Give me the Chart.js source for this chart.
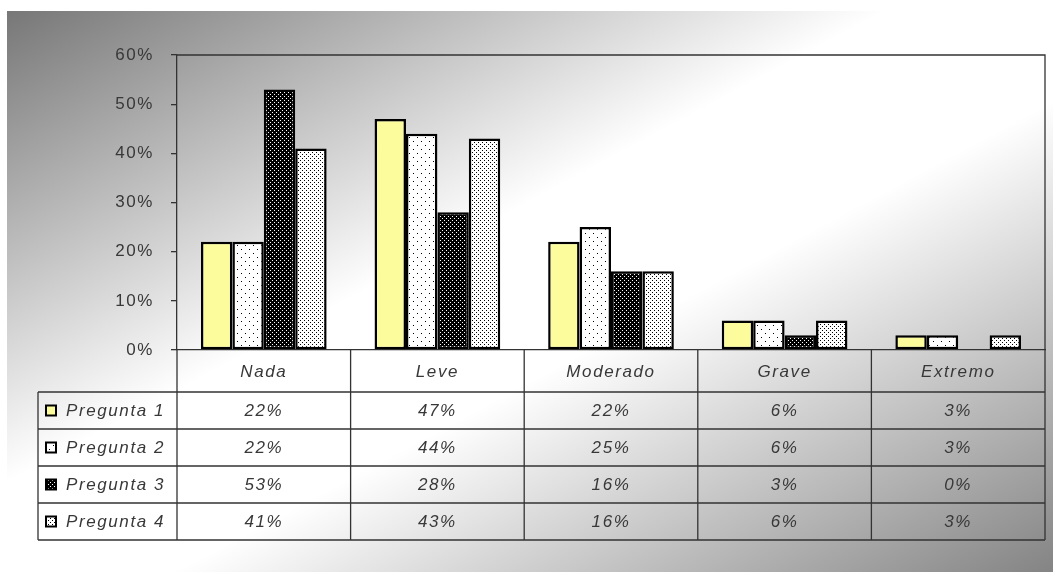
<!DOCTYPE html>
<html>
<head>
<meta charset="utf-8">
<title>Pregunta 1-4</title>
<script src="https://cdn.jsdelivr.net/npm/chart.js@4.4.1/dist/chart.umd.min.js"></script>
<style>
  html, body { margin: 0; padding: 0; background: #fff; overflow: hidden; }
  canvas { display: block; }
</style>
</head>
<body>
<canvas id="chart" width="1053" height="572"></canvas>
<script>
// Categories and answer shares (%) per question
const categories = ['Nada', 'Leve', 'Moderado', 'Grave', 'Extremo'];
const seriesNames = ['Pregunta 1', 'Pregunta 2', 'Pregunta 3', 'Pregunta 4'];
const pregunta1 = [22, 47, 22, 6, 3];
const pregunta2 = [22, 44, 25, 6, 3];
const pregunta3 = [53, 28, 16, 3, 0];
const pregunta4 = [41, 43, 16, 6, 3];
const yTicks = [0, 10, 20, 30, 40, 50, 60];

const FONT = "'Liberation Sans', Arial, sans-serif";
const SPACING = '1.6px';
const TEXT = '#383838';

const canvas = document.getElementById('chart');
const ctx = canvas.getContext('2d');

// Small tiled fills in the style of classic spreadsheet hatch patterns
function dotPattern(bg, fg, size, dots) {
  const c = document.createElement('canvas');
  c.width = size; c.height = size;
  const g = c.getContext('2d');
  g.fillStyle = bg; g.fillRect(0, 0, size, size);
  g.fillStyle = fg;
  dots.forEach(([a, b]) => g.fillRect(a, b, 1, 1));
  return ctx.createPattern(c, 'repeat');
}
const fills = [
  '#fdfc9c',
  dotPattern('#ffffff', '#000000', 8, [[1, 1], [5, 5]]),
  dotPattern('#000000', '#ffffff', 4, [[0, 0], [2, 2]]),
  dotPattern('#ffffff', '#000000', 4, [[0, 0], [2, 2]])
];
const seriesValues = [pregunta1, pregunta2, pregunta3, pregunta4];

// Diagonal grey-white-grey backdrop
const backdrop = {
  id: 'backdrop',
  beforeDraw(chart) {
    const c = chart.ctx;
    const x0 = 7, y0 = 11, w = chart.width - x0, h = chart.height - y0;
    c.save();
    c.fillStyle = '#ffffff';
    c.fillRect(0, 0, chart.width, chart.height);
    c.translate(x0, y0);
    c.scale(w, h);
    const g = c.createLinearGradient(0, 0, 1, 1);
    g.addColorStop(0, '#777777');
    g.addColorStop(0.42, '#ffffff');
    g.addColorStop(0.58, '#ffffff');
    g.addColorStop(1, '#848484');
    c.fillStyle = g;
    c.fillRect(0, 0, 1, 1);
    c.restore();
    c.letterSpacing = SPACING;
  }
};

// Data table under the plot, aligned to the category scale
const dataTable = {
  id: 'dataTable',
  afterDraw(chart) {
    const c = chart.ctx;
    const a = chart.chartArea;
    const x = chart.scales.x;
    const top = a.bottom, headH = 42, rowH = 37, tableLeft = 38;
    const bottom = top + headH + rowH * seriesValues.length;
    const centers = categories.map((_, i) => x.getPixelForValue(i));
    const bounds = [a.left];
    for (let i = 0; i < centers.length - 1; i++) bounds.push((centers[i] + centers[i + 1]) / 2);
    bounds.push(a.right);

    c.save();
    c.letterSpacing = SPACING;
    c.strokeStyle = '#333';
    c.lineWidth = 1.3;
    c.beginPath();
    // plot frame, top and right
    c.moveTo(a.left, a.top); c.lineTo(a.right, a.top); c.lineTo(a.right, top);
    // row rules
    for (let r = 0; r <= seriesValues.length; r++) {
      const yy = top + headH + r * rowH;
      c.moveTo(tableLeft, yy); c.lineTo(a.right, yy);
    }
    c.moveTo(tableLeft, top + headH); c.lineTo(tableLeft, bottom);
    bounds.forEach(bx => { c.moveTo(bx, top); c.lineTo(bx, bottom); });
    c.stroke();

    c.fillStyle = TEXT;
    c.font = 'italic 17px ' + FONT;
    c.textBaseline = 'middle';
    seriesValues.forEach((vals, r) => {
      const cy = top + headH + r * rowH + rowH / 2;
      // legend key
      c.save();
      c.fillStyle = fills[r];
      c.fillRect(46, cy - 5, 10, 10);
      c.strokeStyle = '#000';
      c.lineWidth = 2;
      c.strokeRect(46, cy - 5, 10, 10);
      c.restore();
      c.textAlign = 'left';
      c.fillText(seriesNames[r], 66, cy + 1);
      c.textAlign = 'center';
      vals.forEach((v, i) => c.fillText(v + '%', centers[i], cy + 1));
    });
    c.restore();
  }
};

new Chart(ctx, {
  type: 'bar',
  data: {
    labels: categories,
    datasets: seriesValues.map((vals, i) => ({
      label: seriesNames[i],
      data: vals,
      backgroundColor: fills[i],
      borderColor: '#000',
      borderWidth: 2.5,
      borderSkipped: false,
      categoryPercentage: 0.724,
      barPercentage: 1.0
    }))
  },
  options: {
    responsive: false,
    animation: false,
    events: [],
    layout: { padding: { left: 0, right: 8, top: 55, bottom: 0 } },
    plugins: { legend: { display: false }, tooltip: { enabled: false } },
    scales: {
      x: {
        afterFit(s) { s.height = 222; },
        grid: { display: false, drawTicks: false },
        border: { display: true, color: '#333', width: 1.3 },
        ticks: {
          color: TEXT,
          font: { family: FONT, size: 17, style: 'italic' },
          padding: 12,
          maxRotation: 0
        }
      },
      y: {
        min: yTicks[0],
        max: yTicks[yTicks.length - 1],
        afterFit(s) { s.width = 177; },
        afterBuildTicks(s) { s.ticks = yTicks.map(v => ({ value: v })); },
        grid: { drawOnChartArea: false, tickLength: 6, color: '#333', lineWidth: 1.3 },
        border: { color: '#333', width: 1.3 },
        ticks: {
          color: TEXT,
          font: { family: FONT, size: 17 },
          padding: 17,
          callback: v => v + '%'
        }
      }
    }
  },
  plugins: [backdrop, dataTable]
});
</script>
</body>
</html>
